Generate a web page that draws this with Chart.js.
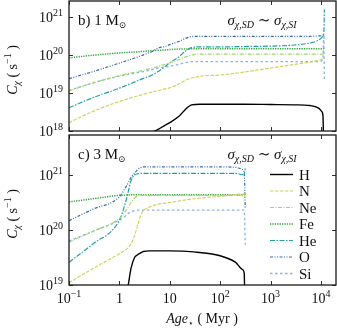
<!DOCTYPE html>
<html>
<head>
<meta charset="utf-8">
<script src="https://cdn.jsdelivr.net/npm/chart.js@4.4.0/dist/chart.umd.min.js"></script>
<style>
  html, body { margin: 0; padding: 0; background: #fff; }
  #wrap { position: relative; width: 337px; height: 328px; }
  canvas { position: absolute; left: 0; }
  #topPanel { top: 0; }
  #botPanel { top: 133px; }
</style>
</head>
<body>
<div id="wrap">
  <canvas id="topPanel" width="337" height="137"></canvas>
  <canvas id="botPanel" width="337" height="195"></canvas>
</div>
<script>
// ---- data ----
const elements = ['H', 'N', 'Ne', 'Fe', 'He', 'O', 'Si'];

const xTicks = [0.1, 1, 10, 100, 1000, 10000];
const xTickText = ['10^\u22121', '1', '10', '10^2', '10^3', '10^4'];

// b) 1 Msun
const ageTop = [0.1, 0.3, 1, 3, 4.5, 6, 8, 10, 15, 20, 27, 40, 100, 300, 1000, 3000, 6000, 9000, 10500, 11000, 11400, 11700];
const topH  = [null, null, null, null, 9.3e17, 1.12e18, 1.41e18, 1.66e18, 2.4e18, 3.6e18, 4.9e18, 5.1e18, 5.1e18, 5.1e18, 5.0e18, 4.9e18, 4.7e18, 4.0e18, 3.2e18, 2.4e18, 1e17, null];
const topN  = [1.66e18, 3.3e18, 6.0e18, 9.3e18, 1.07e19, 1.17e19, 1.29e19, 1.38e19, 1.74e19, 2.14e19, 2.5e19, 2.8e19, 3.0e19, 3.6e19, 4.6e19, 5.7e19, 6.6e19, 7.4e19, 7.9e19, 8.3e19, 8.9e19, null];
const topNe = [1.15e19, 1.86e19, 2.9e19, 4.0e19, 4.6e19, 5.1e19, 5.75e19, 6.3e19, 7.6e19, 8.9e19, 1.0e20, 1.07e20, 1.07e20, 1.07e20, 1.07e20, 1.07e20, 1.07e20, 1.07e20, 1.07e20, 1.07e20, 1.07e20, null];
const topFe = [8.5e19, 1.0e20, 1.15e20, 1.26e20, 1.32e20, 1.35e20, 1.38e20, 1.41e20, 1.45e20, 1.45e20, 1.48e20, 1.48e20, 1.48e20, 1.48e20, 1.48e20, 1.48e20, 1.48e20, 1.48e20, 1.48e20, 1.48e20, 1.48e20, null];
const topHe = [4.1e18, 7.6e18, 1.35e19, 2.45e19, 3.0e19, 3.8e19, 5.0e19, 6.3e19, 8.9e19, 1.26e20, 1.58e20, 1.66e20, 1.66e20, 1.7e20, 1.74e20, 1.86e20, 2.1e20, 2.5e20, 3.0e20, 3.3e20, 3.8e20, 1.6e21];
const topO  = [2.4e19, 3.7e19, 6.2e19, 1.02e20, 1.26e20, 1.55e20, 1.7e20, 1.9e20, 2.3e20, 2.75e20, 3.1e20, 3.16e20, 3.16e20, 3.16e20, 3.16e20, 3.16e20, 3.16e20, 3.24e20, 3.3e20, 3.4e20, 3.55e20, null];
const topSi = [1.17e19, 1.86e19, 2.8e19, 3.7e19, 4.2e19, 4.6e19, 4.9e19, 5.1e19, 5.75e19, 6.3e19, 6.8e19, 6.8e19, 6.8e19, 6.8e19, 6.8e19, 6.8e19, 6.8e19, 6.8e19, 7.2e19, 8.0e19, 3.5e20, 2.2e19];
const topYTicks = [1e18, 1e19, 1e20, 1e21];
const topYText = ['10^18', '10^19', '10^20', '10^21'];

// c) 3 Msun
const ageBot = [0.1, 0.3, 1, 1.3, 1.5, 1.7, 2, 2.3, 2.6, 3, 4, 6, 10, 30, 100, 200, 280, 300, 315, 320];
const botH  = [null, null, null, 5e18, 1.0e19, 2.0e19, 3.16e19, 3.55e19, 3.8e19, 4.07e19, 4.17e19, 4.17e19, 4.17e19, 4.0e19, 3.4e19, 2.6e19, 1.9e19, 1.65e19, 1e18, null];
const botN  = [1.1e19, 2.0e19, 3.7e19, 4.3e19, 4.8e19, 5.6e19, 7.9e19, 1.2e20, 1.78e20, 2.24e20, 2.63e20, 2.95e20, 3.16e20, 3.7e20, 4.1e20, 4.4e20, 4.5e20, 4.5e20, 4.5e20, null];
const botNe = [6.0e19, 9.5e19, 1.62e20, 2.14e20, 2.63e20, 3.16e20, 3.8e20, 4.17e20, 4.27e20, 4.27e20, 4.27e20, 4.27e20, 4.27e20, 4.27e20, 4.27e20, 4.27e20, 4.17e20, 4.07e20, 4.0e20, null];
const botFe = [3.24e20, 3.7e20, 4.27e20, 4.3e20, 4.33e20, 4.36e20, 4.36e20, 4.36e20, 4.36e20, 4.36e20, 4.36e20, 4.36e20, 4.36e20, 4.36e20, 4.36e20, 4.36e20, 4.36e20, 4.36e20, 4.36e20, null];
const botHe = [2.6e19, 5.6e19, 1.51e20, 3.0e20, 5.0e20, 7.9e20, 1.0e21, 1.05e21, 1.07e21, 1.07e21, 1.07e21, 1.07e21, 1.07e21, 1.07e21, 1.07e21, 1.07e21, 1.02e21, 1.05e21, 1.32e21, null];
const botO  = [1.48e20, 2.4e20, 4.0e20, 5.75e20, 7.2e20, 9.1e20, 1.07e21, 1.26e21, 1.35e21, 1.41e21, 1.41e21, 1.41e21, 1.41e21, 1.41e21, 1.41e21, 1.38e21, 1.26e21, 1.07e21, 2.5e20, null];
const botSi = [6.3e19, 9.5e19, 1.51e20, 1.78e20, 2.0e20, 2.14e20, 2.24e20, 2.3e20, 2.3e20, 2.3e20, 2.3e20, 2.3e20, 2.3e20, 2.3e20, 2.3e20, 2.3e20, 2.3e20, 2.3e20, 5.4e19, null];
const botYTicks = [1e19, 1e20, 1e21];
const botYText = ['10^19', '10^20', '10^21'];

// ---- styles ----
const lineStyle = {
  H:  { color: '#000000', dash: [], width: 1.4 },
  N:  { color: '#d0d45a', dash: [3.5, 1.5], width: 1.2 },
  Ne: { color: '#a2d765', dash: [4, 1.5, 1, 1.5], width: 1.2 },
  Fe: { color: '#36a83e', dash: [1.3, 1.1], width: 1.5 },
  He: { color: '#22a09d', dash: [5, 1.5, 1.5, 1.5], width: 1.2 },
  O:  { color: '#366ab2', dash: [3, 1.5, 1, 1.5, 1, 1.5], width: 1.2 },
  Si: { color: '#86b3e8', dash: [2.5, 2.5], width: 1.3 }
};

const FONT = '"Liberation Serif", "DejaVu Serif", serif';

function drawRuns(ctx, parts, x, y, align) {
  const fontOf = p => (p.i ? 'italic ' : '') + p.s + 'px ' + FONT;
  let w = 0;
  parts.forEach(p => { ctx.font = fontOf(p); w += ctx.measureText(p.t).width; });
  let cx = align === 'right' ? x - w : align === 'center' ? x - w / 2 : x;
  parts.forEach(p => {
    ctx.font = fontOf(p);
    ctx.fillText(p.t, cx, y + (p.d || 0));
    cx += ctx.measureText(p.t).width;
  });
}

function powerParts(label, size) {
  const [b, e] = label.split('^');
  const parts = [{ t: b, s: size }];
  if (e) parts.push({ t: e, s: 10, d: -6 });
  return parts;
}

const sigmaParts = [
  { t: '\u03c3', s: 15, i: true }, { t: '\u03c7,SD', s: 10, i: true, d: 3 },
  { t: ' \u223c ', s: 15 },
  { t: '\u03c3', s: 15, i: true }, { t: '\u03c7,SI', s: 10, i: true, d: 3 }
];

const panelDeco = {
  id: 'panelDeco',
  afterDraw(chart, args, o) {
    const { ctx, chartArea: a, scales: { x, y } } = chart;
    ctx.save();
    ctx.fillStyle = '#111';
    ctx.textBaseline = 'alphabetic';

    // frame
    ctx.strokeStyle = '#1a1a1a';
    ctx.lineWidth = 1.3;
    ctx.setLineDash([]);
    ctx.strokeRect(a.left, a.top, a.right - a.left, a.bottom - a.top);

    // inward ticks on all sides
    ctx.lineWidth = 0.9;
    ctx.beginPath();
    x.ticks.forEach(t => {
      const px = Math.round(x.getPixelForValue(t.value)) + 0.5;
      ctx.moveTo(px, a.bottom); ctx.lineTo(px, a.bottom - 4);
      ctx.moveTo(px, a.top); ctx.lineTo(px, a.top + 4);
    });
    y.ticks.forEach(t => {
      const py = Math.round(y.getPixelForValue(t.value)) + 0.5;
      ctx.moveTo(a.left, py); ctx.lineTo(a.left + 4, py);
      ctx.moveTo(a.right, py); ctx.lineTo(a.right - 4, py);
    });
    ctx.stroke();

    // y tick labels
    y.ticks.forEach((t, i) => {
      const py = y.getPixelForValue(t.value);
      drawRuns(ctx, powerParts(o.yText[i], 14), a.left - 6, py + 4.5, 'right');
    });

    // y title (rotated)
    ctx.save();
    ctx.translate(17, (a.top + a.bottom) / 2 + 4);
    ctx.rotate(-Math.PI / 2);
    drawRuns(ctx, [
      { t: 'C', s: 14, i: true }, { t: '\u03c7', s: 10, i: true, d: 3 },
      { t: ' ( s', s: 14 }, { t: '\u22121', s: 10, d: -6 }, { t: ' )', s: 14 }
    ], 0, 0, 'center');
    ctx.restore();

    // panel label and cross-section note
    drawRuns(ctx, [{ t: o.label, s: 15 }, { t: 'M', s: 15 }, { t: '\u2299', s: 9, d: 3 }], 78, a.top + 23.5, 'left');
    drawRuns(ctx, sigmaParts, 262, a.top + 24, 'center');

    if (o.xLabels) {
      x.ticks.forEach((t, i) => {
        const px = x.getPixelForValue(t.value);
        drawRuns(ctx, powerParts(xTickText[i], 14), px, a.bottom + 18, 'center');
      });
      drawRuns(ctx, [
        { t: 'Age', s: 14, i: true }, { t: '\u22c6', s: 9, d: 3 }, { t: ' ( Myr )', s: 14 }
      ], 202, a.bottom + 38, 'center');
    }

    if (o.legend) {
      chart.data.datasets.forEach((ds, i) => {
        const ly = a.top + 39.5 + i * 16.5;
        ctx.strokeStyle = ds.borderColor;
        ctx.lineWidth = ds.borderWidth;
        ctx.setLineDash(ds.borderDash);
        ctx.beginPath();
        ctx.moveTo(270, ly); ctx.lineTo(293, ly);
        ctx.stroke();
        ctx.setLineDash([]);
        drawRuns(ctx, [{ t: ds.label, s: 15 }], 299, ly + 5, 'left');
      });
    }
    ctx.restore();
  }
};

function makePanel(id, ages, values, yTicks, yText, yMin, yMax, padTop, xHeight, deco) {
  const datasets = elements.map((name, k) => ({
    label: name,
    data: ages.map((a, i) => ({ x: a, y: values[k][i] })),
    borderColor: lineStyle[name].color,
    borderDash: lineStyle[name].dash,
    borderWidth: lineStyle[name].width,
    pointRadius: 0,
    fill: false,
    spanGaps: false,
    cubicInterpolationMode: 'monotone'
  }));
  return new Chart(document.getElementById(id), {
    type: 'line',
    data: { datasets },
    plugins: [panelDeco],
    options: {
      responsive: false,
      animation: false,
      devicePixelRatio: 1,
      layout: { padding: { left: 0, right: 1, top: padTop, bottom: 0 } },
      plugins: {
        legend: { display: false },
        tooltip: { enabled: false },
        panelDeco: Object.assign({ yText }, deco)
      },
      scales: {
        x: {
          type: 'logarithmic',
          min: 0.1,
          max: 1.99e4,
          afterBuildTicks: s => { s.ticks = xTicks.map(v => ({ value: v })); },
          afterFit: s => { s.height = xHeight; },
          ticks: { display: false },
          grid: { display: false },
          border: { display: false }
        },
        y: {
          type: 'logarithmic',
          min: yMin,
          max: yMax,
          afterBuildTicks: s => { s.ticks = yTicks.map(v => ({ value: v })); },
          afterFit: s => { s.width = 69; },
          ticks: { display: false },
          grid: { display: false },
          border: { display: false }
        }
      }
    }
  });
}

makePanel('topPanel', ageTop, [topH, topN, topNe, topFe, topHe, topO, topSi],
  topYTicks, topYText, 1e18, 2.7e21, 1, 6, { label: 'b) 1 ', legend: false, xLabels: false });
makePanel('botPanel', ageBot, [botH, botN, botNe, botFe, botHe, botO, botSi],
  botYTicks, botYText, 1e19, 5.34e21, 2, 43, { label: 'c) 3 ', legend: true, xLabels: true });
</script>
</body>
</html>
